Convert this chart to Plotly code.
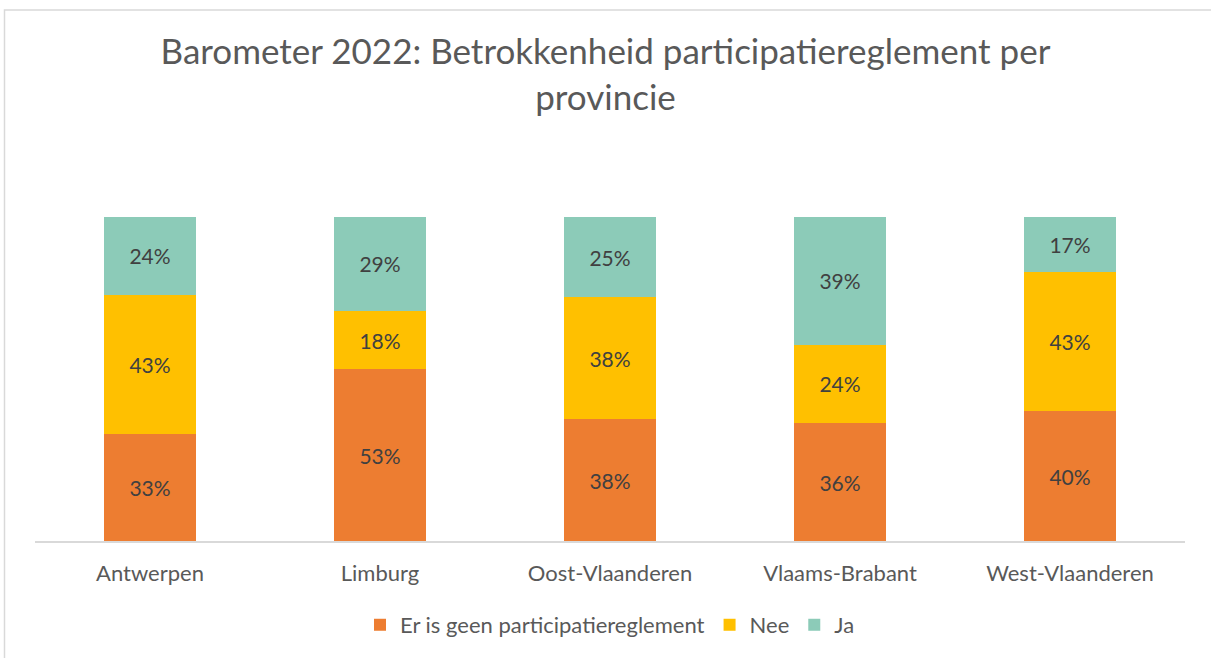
import plotly.graph_objects as go

categories = ["Antwerpen", "Limburg", "Oost-Vlaanderen", "Vlaams-Brabant", "West-Vlaanderen"]
geen = [33, 53, 38, 36, 40]
nee = [43, 18, 38, 24, 43]
ja = [24, 29, 25, 39, 17]
series_names = ["Er is geen participatiereglement", "Nee", "Ja"]
colors = ["#ED7D31", "#FFC000", "#8CCBB8"]

W, H = 1211, 658
L, R, T, B = 35, 1185, 217, 545
FONT = "Lato"
TXT = "#595959"

fig = go.Figure()
for name, vals, col in zip(series_names, [geen, nee, ja], colors):
    fig.add_trace(go.Bar(
        x=categories, y=vals, name=name, marker=dict(color=col, line=dict(width=0)),
        text=[f"{v}%" for v in vals], texttemplate="%{text}",
        textposition="inside", insidetextanchor="middle",
        textfont=dict(family=FONT, size=21, color="#404040"),
        hoverinfo="skip",
    ))

pw, ph = R - L, B - T
fig.update_layout(
    width=W, height=H,
    barmode="stack", barnorm="percent", bargap=0.6,
    paper_bgcolor="white", plot_bgcolor="white",
    margin=dict(l=L, r=W - R, t=T, b=H - B),
    font=dict(family=FONT, color=TXT, size=22),
    title=dict(text="Barometer 2022: Betrokkenheid participatiereglement per<br>provincie",
               x=0.5, xanchor="center", y=1 - 64 / H, yanchor="middle",
               font=dict(family=FONT, size=35, color=TXT)),
    showlegend=True,
    legend=dict(orientation="h", x=0.5, xanchor="center", y=(B - 630) / ph, yanchor="middle",
                font=dict(family=FONT, size=22, color=TXT), traceorder="normal",
                itemwidth=30, entrywidthmode="pixels"),
    uniformtext=dict(mode=False),
)
fig.update_xaxes(showline=True, linecolor="#D9D9D9", linewidth=2, ticks="", showgrid=False,
                 tickfont=dict(family=FONT, size=22, color=TXT), ticklabelstandoff=12)
fig.update_yaxes(visible=False, range=[0, 100], showgrid=False)
fig.add_shape(type="rect", xref="paper", yref="paper",
              x0=(4.5 - L) / pw, x1=(1230 - L) / pw, y0=(B - 680) / ph, y1=(B - 7.5) / ph,
              line=dict(color="#D9D9D9", width=1.5), fillcolor="rgba(0,0,0,0)", layer="below")
fig.write_html("out.html", config={"displayModeBar": False},
               post_script="document.body.style.margin='0';document.body.style.overflow='hidden';")
